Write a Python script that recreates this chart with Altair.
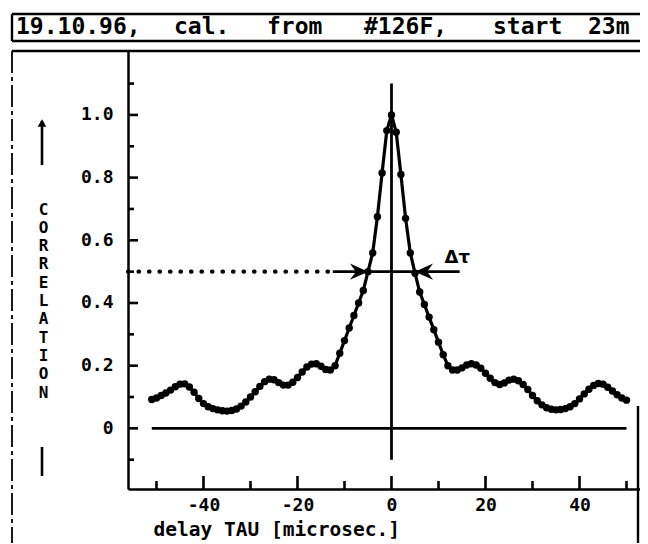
import altair as alt
import pandas as pd

FONT = "DejaVu Sans Mono"

# ---------------- data ----------------
title_words = ["19.10.96,", "cal.", "from", "#126F,", "start", "23m"]
title_word_px = [-112.0, 46.0, 139.0, 236.0, 365.0, 460.0]

tau = list(range(-51, 51))
corr = [
    0.092, 0.097, 0.105, 0.113, 0.122, 0.133, 0.141, 0.142, 0.132, 0.115,
    0.095, 0.079, 0.069, 0.063, 0.059, 0.056, 0.055, 0.057, 0.062, 0.071,
    0.084, 0.100, 0.117, 0.134, 0.149, 0.157, 0.155, 0.146, 0.138, 0.138,
    0.147, 0.162, 0.180, 0.196, 0.205, 0.206, 0.198, 0.188, 0.186, 0.200,
    0.240, 0.280, 0.320, 0.360, 0.400, 0.440, 0.500, 0.560, 0.675, 0.815,
    0.950, 1.000, 0.945, 0.810, 0.670, 0.560, 0.495, 0.435, 0.395, 0.355,
    0.315, 0.275, 0.235, 0.200, 0.186, 0.186, 0.193, 0.202, 0.206, 0.202,
    0.192, 0.176, 0.160, 0.146, 0.140, 0.145, 0.154, 0.157, 0.152, 0.140,
    0.124, 0.105, 0.088, 0.075, 0.066, 0.061, 0.059, 0.060, 0.063, 0.069,
    0.079, 0.094, 0.110, 0.125, 0.137, 0.143, 0.141, 0.131, 0.119, 0.107,
    0.097, 0.090,
]

x_ticks_major = [-40, -20, 0, 20, 40]
x_ticks_minor = [-50, -30, -10, 10, 30, 50]
y_ticks_major = [0, 0.2, 0.4, 0.6, 0.8, 1.0]
y_ticks_minor = [-0.1, 0.1, 0.3, 0.5, 0.7, 0.9, 1.1]

X_DOMAIN = [-56.06, 52.87]
Y_DOMAIN = [-0.1935, 1.204]

half_level = 0.5
dotted_span = [-56.06, -12.5]
solid_span = [-12.5, 14.5]
arrow_right_center = [-6.9]
arrow_left_center = [6.9]
delta_label_pos = [14.0, 0.545]
zero_span = [-51, 50]
center_span = [-0.1, 1.1]

W, H = 512, 438

xs = alt.Scale(domain=X_DOMAIN, nice=False, zero=False)
ys = alt.Scale(domain=Y_DOMAIN, nice=False, zero=False)

curve_df = pd.DataFrame({"tau": tau, "corr": corr})

x_axis = alt.Axis(
    values=x_ticks_major, labelExpr="'' + datum.value", ticks=False, grid=False,
    domain=True, domainColor="black", domainWidth=2.5,
    labelFont=FONT, labelFontSize=18, labelFontWeight="bold", labelColor="black",
    labelPadding=7, labelOverlap=False,
    title="delay TAU [microsec.]", titleFont=FONT, titleFontSize=19.5,
    titleFontWeight="bold", titleColor="black", titleAlign="left",
    titleX=25, titleY=40, titleBaseline="middle",
)
y_axis = alt.Axis(
    values=y_ticks_major,
    labelExpr="datum.value == 0 ? '0' : format(datum.value, '.1f')",
    ticks=False, grid=False, domain=True, domainColor="black", domainWidth=2.5,
    labelFont=FONT, labelFontSize=18, labelFontWeight="bold", labelColor="black",
    labelPadding=15, labelOverlap=False,
    title=list("CORRELATION"), titleAngle=0, titleX=-85, titleY=150,
    titleAlign="center", titleBaseline="top", titleLineHeight=18.3,
    titleFont=FONT, titleFontSize=16, titleFontWeight="bold", titleColor="black",
)

line = alt.Chart(curve_df).mark_line(color="black", strokeWidth=3.2).encode(
    x=alt.X("tau:Q", scale=xs, axis=x_axis),
    y=alt.Y("corr:Q", scale=ys, axis=y_axis),
)
pts = alt.Chart(curve_df).mark_circle(color="black", size=55, opacity=1).encode(
    x=alt.X("tau:Q", scale=xs), y=alt.Y("corr:Q", scale=ys)
)

zero_df = pd.DataFrame({"a": [zero_span[0]], "b": [zero_span[1]], "y": [0.0]})
zero_line = alt.Chart(zero_df).mark_rule(color="black", strokeWidth=2.8).encode(
    x=alt.X("a:Q", scale=xs), x2="b:Q", y=alt.Y("y:Q", scale=ys)
)
center_df = pd.DataFrame({"x": [0.0], "a": [center_span[0]], "b": [center_span[1]]})
center_line = alt.Chart(center_df).mark_rule(color="black", strokeWidth=2.8).encode(
    x=alt.X("x:Q", scale=xs), y=alt.Y("a:Q", scale=ys), y2="b:Q"
)

dot_df = pd.DataFrame({"a": [dotted_span[0]], "b": [dotted_span[1]], "y": [half_level]})
dotted = alt.Chart(dot_df).mark_rule(
    color="black", strokeWidth=4.2, strokeDash=[0.5, 10], strokeCap="round"
).encode(x=alt.X("a:Q", scale=xs), x2="b:Q", y=alt.Y("y:Q", scale=ys))
sol_df = pd.DataFrame({"a": [solid_span[0]], "b": [solid_span[1]], "y": [half_level]})
solid = alt.Chart(sol_df).mark_rule(color="black", strokeWidth=2.8).encode(
    x=alt.X("a:Q", scale=xs), x2="b:Q", y=alt.Y("y:Q", scale=ys)
)
ar_df = pd.DataFrame({"x": arrow_right_center, "y": [half_level]})
arrow_r = alt.Chart(ar_df).mark_point(
    shape="M1,0 L-1,-0.9 L-0.35,0 L-1,0.9 Z", filled=True, size=330, color="black", opacity=1
).encode(x=alt.X("x:Q", scale=xs), y=alt.Y("y:Q", scale=ys))
al_df = pd.DataFrame({"x": arrow_left_center, "y": [half_level]})
arrow_l = alt.Chart(al_df).mark_point(
    shape="M-1,0 L1,-0.9 L0.35,0 L1,0.9 Z", filled=True, size=330, color="black", opacity=1
).encode(x=alt.X("x:Q", scale=xs), y=alt.Y("y:Q", scale=ys))
dl_df = pd.DataFrame({"x": [delta_label_pos[0]], "y": [delta_label_pos[1]], "t": ["Δτ"]})
delta_lbl = alt.Chart(dl_df).mark_text(
    font="DejaVu Sans", fontSize=18, fontWeight="bold", color="black",
    align="center", baseline="middle"
).encode(x=alt.X("x:Q", scale=xs), y=alt.Y("y:Q", scale=ys), text="t:N")

# inward tick marks
xt_major = alt.Chart(pd.DataFrame({"v": x_ticks_major})).mark_rule(
    color="black", strokeWidth=2.6).encode(
    x=alt.X("v:Q", scale=xs), y=alt.value(H), y2=alt.value(H - 13))
xt_minor = alt.Chart(pd.DataFrame({"v": x_ticks_minor})).mark_rule(
    color="black", strokeWidth=2.6).encode(
    x=alt.X("v:Q", scale=xs), y=alt.value(H), y2=alt.value(H - 8))
yt_major = alt.Chart(pd.DataFrame({"v": y_ticks_major})).mark_rule(
    color="black", strokeWidth=2.6).encode(
    y=alt.Y("v:Q", scale=ys), x=alt.value(0), x2=alt.value(10))
yt_minor = alt.Chart(pd.DataFrame({"v": y_ticks_minor})).mark_rule(
    color="black", strokeWidth=2.6).encode(
    y=alt.Y("v:Q", scale=ys), x=alt.value(0), x2=alt.value(6))

# page frame (layout decoration, pixel units relative to plot origin)
frame_df = pd.DataFrame({
    "x": [-116, -116, -116, -116, 510],
    "x2": [W, W, -116, W, 510],
    "y": [-37, -10, -37, 0, 355],
    "y2": [-37, -10, -10, 0, 493],
})
frame = alt.Chart(frame_df).mark_rule(color="black", strokeWidth=2.4).encode(
    x=alt.X("x:Q", scale=None), x2="x2:Q", y=alt.Y("y:Q", scale=None), y2="y2:Q")
left_df = pd.DataFrame({"x": [-116], "x2": [-116], "y": [0], "y2": [493]})
left_border = alt.Chart(left_df).mark_rule(
    color="black", strokeWidth=1.8, strokeDash=[22, 4, 4, 4]).encode(
    x=alt.X("x:Q", scale=None), x2="x2:Q", y=alt.Y("y:Q", scale=None), y2="y2:Q")

# y title decorations: arrow above and bar below the stacked letters
deco_df = pd.DataFrame({"x": [-86, -86], "x2": [-86, -86], "y": [70, 396], "y2": [114, 425]})
deco = alt.Chart(deco_df).mark_rule(color="black", strokeWidth=2.6).encode(
    x=alt.X("x:Q", scale=None), x2="x2:Q", y=alt.Y("y:Q", scale=None), y2="y2:Q")
head_df = pd.DataFrame({"x": [-86], "y": [72]})
head = alt.Chart(head_df).mark_point(
    shape="triangle-up", filled=True, size=75, color="black", opacity=1).encode(
    x=alt.X("x:Q", scale=None), y=alt.Y("y:Q", scale=None))

title_df = pd.DataFrame({"w": title_words, "px": title_word_px})
title = alt.Chart(title_df).mark_text(
    font=FONT, fontSize=23, fontWeight="bold", color="black",
    align="left", baseline="alphabetic").encode(
    x=alt.X("px:Q", scale=None), y=alt.value(-17), text="w:N")

chart = alt.layer(
    line, pts, zero_line, center_line, dotted, solid, arrow_r, arrow_l, delta_lbl,
    xt_major, xt_minor, yt_major, yt_minor, frame, left_border, deco, head, title,
).properties(
    width=W, height=H,
    autosize=alt.AutoSizeParams(type="none"),
    padding={"left": 120, "top": 43, "right": 0, "bottom": 54},
    background="white",
).configure_view(stroke=None)

chart.save("out.html", embed_options={"renderer": "svg", "actions": False})
